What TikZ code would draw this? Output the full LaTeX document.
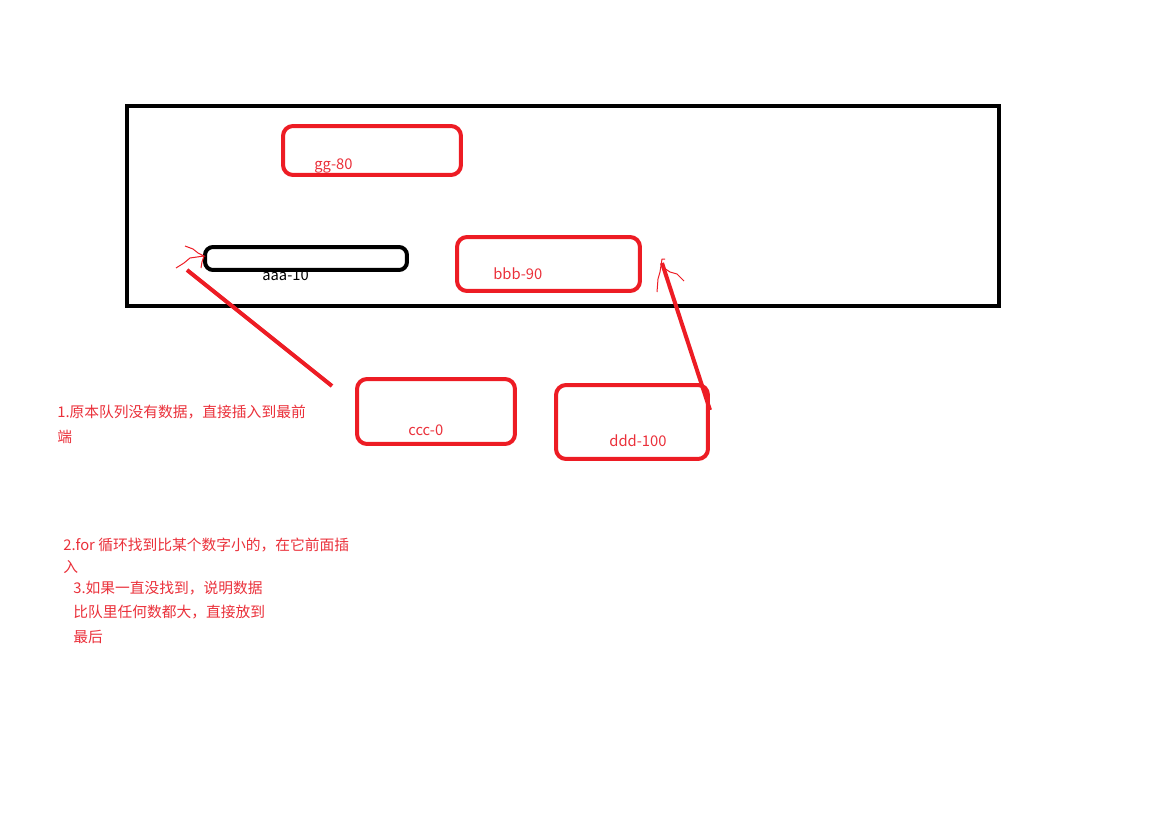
\documentclass[tikz,border=0pt]{standalone}
\usepackage{fontspec}
\setmainfont{Noto Sans CJK SC}
\definecolor{paintred}{RGB}{237,28,36}
\definecolor{textred}{RGB}{234,48,58}
\tikzset{
  redbox/.style={draw=paintred, line width=0.08cm, rounded corners=0.2cm, inner sep=0pt},
  blackbox/.style={draw=black, line width=0.08cm, rounded corners=0.2cm, inner sep=0pt},
  lbl/.style={anchor=base west, inner sep=0pt, font=\fontsize{8.4pt}{10pt}\selectfont},
  note/.style={lbl, text=textred},
  stroke/.style={draw=paintred, line width=0.08cm},
  scribble/.style={draw=paintred, line width=0.02cm}
}

\begin{document}
\begin{tikzpicture}[x=0.02cm,y=-0.02cm]
            \useasboundingbox (0,0) rectangle (1152,824);
            % queue
            \node (queue) [draw, line width=0.09cm, inner sep=0pt, minimum width=17.44cm, minimum height=4cm] at (563,206) {};
            \node (gg) [redbox, minimum width=3.56cm, minimum height=0.98cm] at (372,150.5) {};
            \node[note] (gglbl) at (314,170) {gg-80};
            \node[lbl] (aaalbl) at (262,280) {aaa-10};
            \node (aaa) [blackbox, rounded corners=0.16cm, minimum width=4.04cm, minimum height=0.46cm] at (306,258.5) {};
            \node (bbb) [redbox, minimum width=3.66cm, minimum height=1.08cm] at (548.5,264) {};
            \node[note] (bbblbl) at (493,279) {bbb-90};
            % new elements
            \node (ccc) [redbox, minimum width=3.16cm, minimum height=1.3cm] at (436,411.5) {};
            \node[note] (ccclbl) at (408,435) {ccc-0};
            \node (ddd) [redbox, minimum width=3.04cm, minimum height=1.48cm] at (632,422) {};
            \node[note] (dddlbl) at (609,446) {ddd-100};
            % arrows
            \coordinate (from1) at (332,386);
            \coordinate (to1) at (187,270);
            \coordinate (tip1) at (204,256);
            \draw[stroke] (from1) -- (to1);
            \draw[scribble] (185,246) -- (193,249) -- (198,253) -- (tip1) -- (190,258) -- (184,263) -- (176,268);
            \draw[scribble] (tip1) -- (202,262) -- (201,268);
            \coordinate (from2) at (710,410);
            \coordinate (to2) at (662,263);
            \draw[stroke] (from2) -- (to2);
            \draw[scribble] (657,292) -- (658,279) -- (660,272) -- (662,259) -- (665,259);
            \draw[scribble] (664,268) -- (670,272) -- (677,274) -- (680,277) -- (684,281);
            % notes
            \node[note] (n1a) at (57,417.5) {1.原本队列没有数据，直接插入到最前};
            \node[note] (n1b) at (57,442.5) {端};
            \node[note] (n2a) at (63,550.5) {2.for 循环找到比某个数字小的，在它前面插};
            \node[note] (n2b) at (63,572.5) {入};
            \node[note] (n3a) at (73,593.5) {3.如果一直没找到，说明数据};
            \node[note] (n3b) at (73,617.5) {比队里任何数都大，直接放到};
            \node[note] (n3c) at (73,642.5) {最后};
\end{tikzpicture}
\end{document}
